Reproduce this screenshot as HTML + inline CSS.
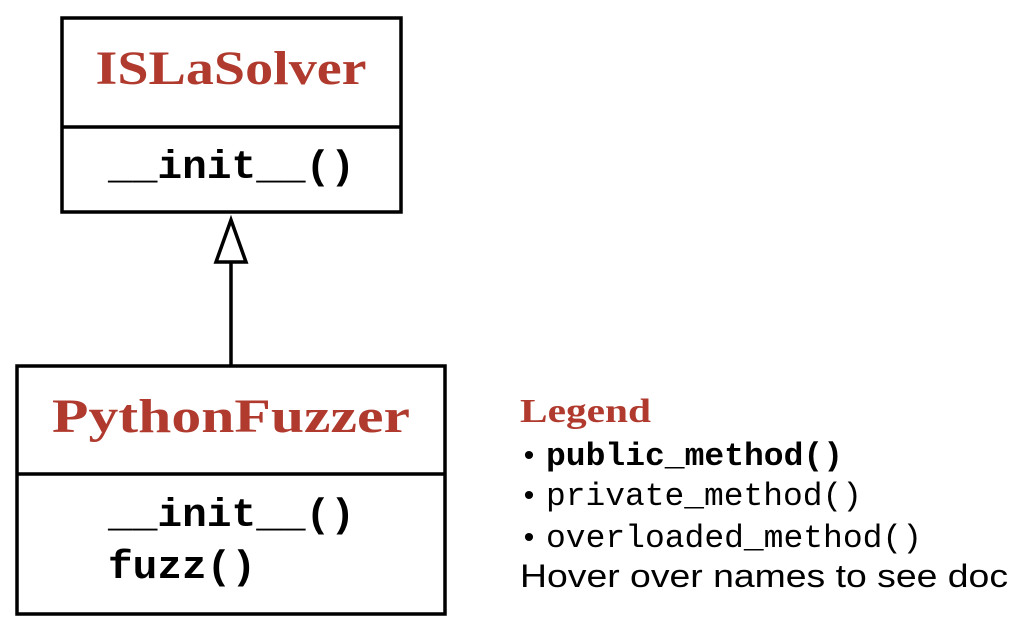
<!DOCTYPE html>
<html><head><meta charset="utf-8"><style>html,body{margin:0;padding:0;background:#fff}</style></head>
<body>
<svg width="1033" height="633" xmlns="http://www.w3.org/2000/svg">
<rect x="62" y="18" width="339" height="194" fill="#fff" stroke="#000" stroke-width="3.5"/>
<line x1="62" y1="127" x2="401" y2="127" stroke="#000" stroke-width="3.5"/>
<text x="231" y="84" text-anchor="middle" font-family="Liberation Serif,serif" font-weight="bold" font-size="48" fill="#b03a2e" textLength="271" lengthAdjust="spacingAndGlyphs">ISLaSolver</text>
<text x="108" y="178" font-family="Liberation Mono,monospace" font-weight="bold" font-size="40" fill="#000" textLength="247" lengthAdjust="spacingAndGlyphs">__init__()</text>

<line x1="231" y1="365" x2="231" y2="262" stroke="#000" stroke-width="3.5"/>
<polygon points="231,220 216,262 246,262" fill="#fff" stroke="#000" stroke-width="3.5"/>

<rect x="17" y="366" width="428" height="248" fill="#fff" stroke="#000" stroke-width="3.5"/>
<line x1="17" y1="474" x2="445" y2="474" stroke="#000" stroke-width="3.5"/>
<text x="231" y="432" text-anchor="middle" font-family="Liberation Serif,serif" font-weight="bold" font-size="48" fill="#b03a2e" textLength="358" lengthAdjust="spacingAndGlyphs">PythonFuzzer</text>
<text x="108" y="526" font-family="Liberation Mono,monospace" font-weight="bold" font-size="40" fill="#000" textLength="247" lengthAdjust="spacingAndGlyphs">__init__()</text>
<text x="108" y="578" font-family="Liberation Mono,monospace" font-weight="bold" font-size="40" fill="#000" textLength="148" lengthAdjust="spacingAndGlyphs">fuzz()</text>

<text x="520" y="422" font-family="Liberation Serif,serif" font-weight="bold" font-size="34" fill="#b03a2e" textLength="131" lengthAdjust="spacingAndGlyphs">Legend</text>
<text x="520" y="465" font-family="Liberation Mono,monospace" font-size="30" fill="#000">•</text>
<text x="546" y="465" font-family="Liberation Mono,monospace" font-weight="bold" font-size="32" fill="#000" textLength="297" lengthAdjust="spacingAndGlyphs">public_method()</text>
<text x="520" y="505" font-family="Liberation Mono,monospace" font-size="30" fill="#000">•</text>
<text x="546" y="505" font-family="Liberation Mono,monospace" font-size="32" fill="#000" textLength="316" lengthAdjust="spacingAndGlyphs">private_method()</text>
<text x="520" y="547" font-family="Liberation Mono,monospace" font-size="30" fill="#000">•</text>
<text x="546" y="547" font-family="Liberation Mono,monospace" font-size="32" fill="#000" textLength="376" lengthAdjust="spacingAndGlyphs">overloaded_method()</text>
<text x="520" y="587" font-family="Liberation Sans,sans-serif" font-size="32" fill="#000" textLength="488" lengthAdjust="spacingAndGlyphs">Hover over names to see doc</text>
</svg>
</body></html>
